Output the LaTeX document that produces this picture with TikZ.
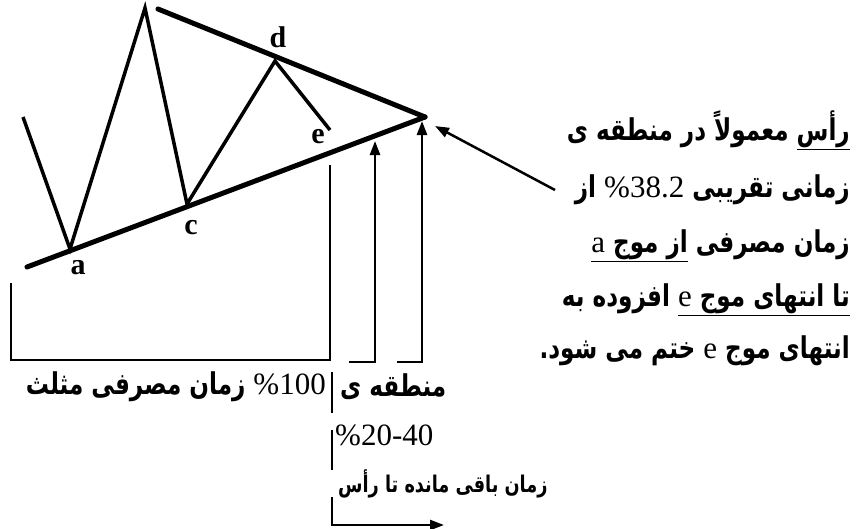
\documentclass[tikz,border=0pt]{standalone}
\usepackage{fontspec}
\setmainfont{Liberation Serif}
\newfontfamily\fa[Script=Arabic, FakeStretch=0.77]{DejaVu Sans}
\newfontfamily\latf{Liberation Serif}
\TeXXeTstate=1
\usetikzlibrary{arrows.meta}
\newcommand\lt[1]{{\latf\mdseries\fontsize{31}{36}\selectfont #1}}
\newcommand\ulr[1]{\underline{\hbox{\beginR #1\endR}}}
\tikzset{
  trend/.style={line width=5pt, line cap=round},
  wave/.style={line width=3.5pt, line join=miter},
  brk/.style={line width=2.5pt},
  arr/.style={line width=2.5pt, -{Triangle[length=14pt,width=10pt]}},
  lbl/.style={font=\bfseries\fontsize{30}{30}\selectfont, inner sep=0},
  fatxt/.style={font=\fa\bfseries\fontsize{30}{34}\selectfont, inner sep=0, anchor=base east},
  fatxtl/.style={font=\fa\bfseries\fontsize{30}{34}\selectfont, inner sep=0, anchor=base west}
}
\begin{document}
\begin{tikzpicture}[x=1pt,y=-1pt]
\useasboundingbox[fill=white] (0,0) rectangle (857,528);
% wave and trend lines
\coordinate (w0) at (23,117);
\coordinate (w1) at (70,249);
\coordinate (w2) at (145,8);
\coordinate (w3) at (187,204);
\coordinate (w4) at (275,61);
\coordinate (w5) at (330,130);
\coordinate (lt0) at (27,267);
\coordinate (ut0) at (158,9);
\coordinate (apex) at (425,117);
\draw[wave] (w0) -- (w1) -- (w2) -- (w3) -- (w4) -- (w5);
\draw[trend] (lt0) -- (apex);
\draw[trend] (ut0) -- (apex);
% labels
\node[lbl] (la) at (78,268) {a};
\node[lbl] (lc) at (191,228) {c};
\node[lbl] (ld) at (278,37) {d};
\node[lbl] (le) at (318,137) {e};
% brackets
\coordinate (b1a) at (11,283);
\coordinate (b1b) at (11,360);
\coordinate (b1c) at (330,360);
\coordinate (b1d) at (330,165);
\draw[brk] (b1a) -- (b1b) -- (b1c) -- (b1d);
\coordinate (b2a) at (349,362);
\coordinate (b2b) at (375,362);
\coordinate (b2c) at (375,141);
\draw[brk, arr] (b2a) -- (b2b) -- (b2c);
\coordinate (b3a) at (397,362);
\coordinate (b3b) at (422,362);
\coordinate (b3c) at (422,121);
\draw[brk, arr] (b3a) -- (b3b) -- (b3c);
% arrow from text to apex
\coordinate (txa) at (555,190);
\coordinate (txb) at (435,126);
\draw[arr] (txa) -- (txb);
% right-hand text
\node[fatxt] (r1) at (850,140) {\beginR\ulr{رأس} معمولاً در منطقه ی\endR};
\node[fatxt] (r2) at (850,197) {\beginR زمانی تقریبی \beginL\lt{38.2}\endL\lt{\%} از\endR};
\node[fatxt] (r3) at (850,252) {\beginR زمان مصرفی \ulr{از موج \lt{a}}\endR};
\node[fatxt] (r4) at (850,306) {\beginR\ulr{تا انتهای موج \lt{e}} افزوده به\endR};
\node[fatxt] (r5) at (850,358) {\beginR انتهای موج \lt{e} ختم می شود.\endR};
% bottom texts
\node[fatxt] (t1) at (326,394) {\beginR\beginL\lt{100}\endL\lt{\%} زمان مصرفی مثلث\endR};
\node[fatxtl] (t2) at (340,396) {\beginR منطقه ی\endR};
\node[fatxtl] (t3) at (335,445) {\lt{\%20-40}};
\node[fatxtl, font=\fa\bfseries\fontsize{23}{28}\selectfont] (t4) at (338,492) {\beginR زمان باقی مانده تا رأس\endR};
% vertical time line
\coordinate (v1) at (332,372);
\coordinate (v2) at (332,413);
\coordinate (v3) at (332,430);
\coordinate (v4) at (332,470);
\coordinate (v5) at (332,497);
\coordinate (v6) at (332,525);
\coordinate (v7) at (444,525);
\draw[brk] (v1) -- (v2);
\draw[brk] (v3) -- (v4);
\draw[brk, arr] (v5) -- (v6) -- (v7);
\end{tikzpicture}
\end{document}
